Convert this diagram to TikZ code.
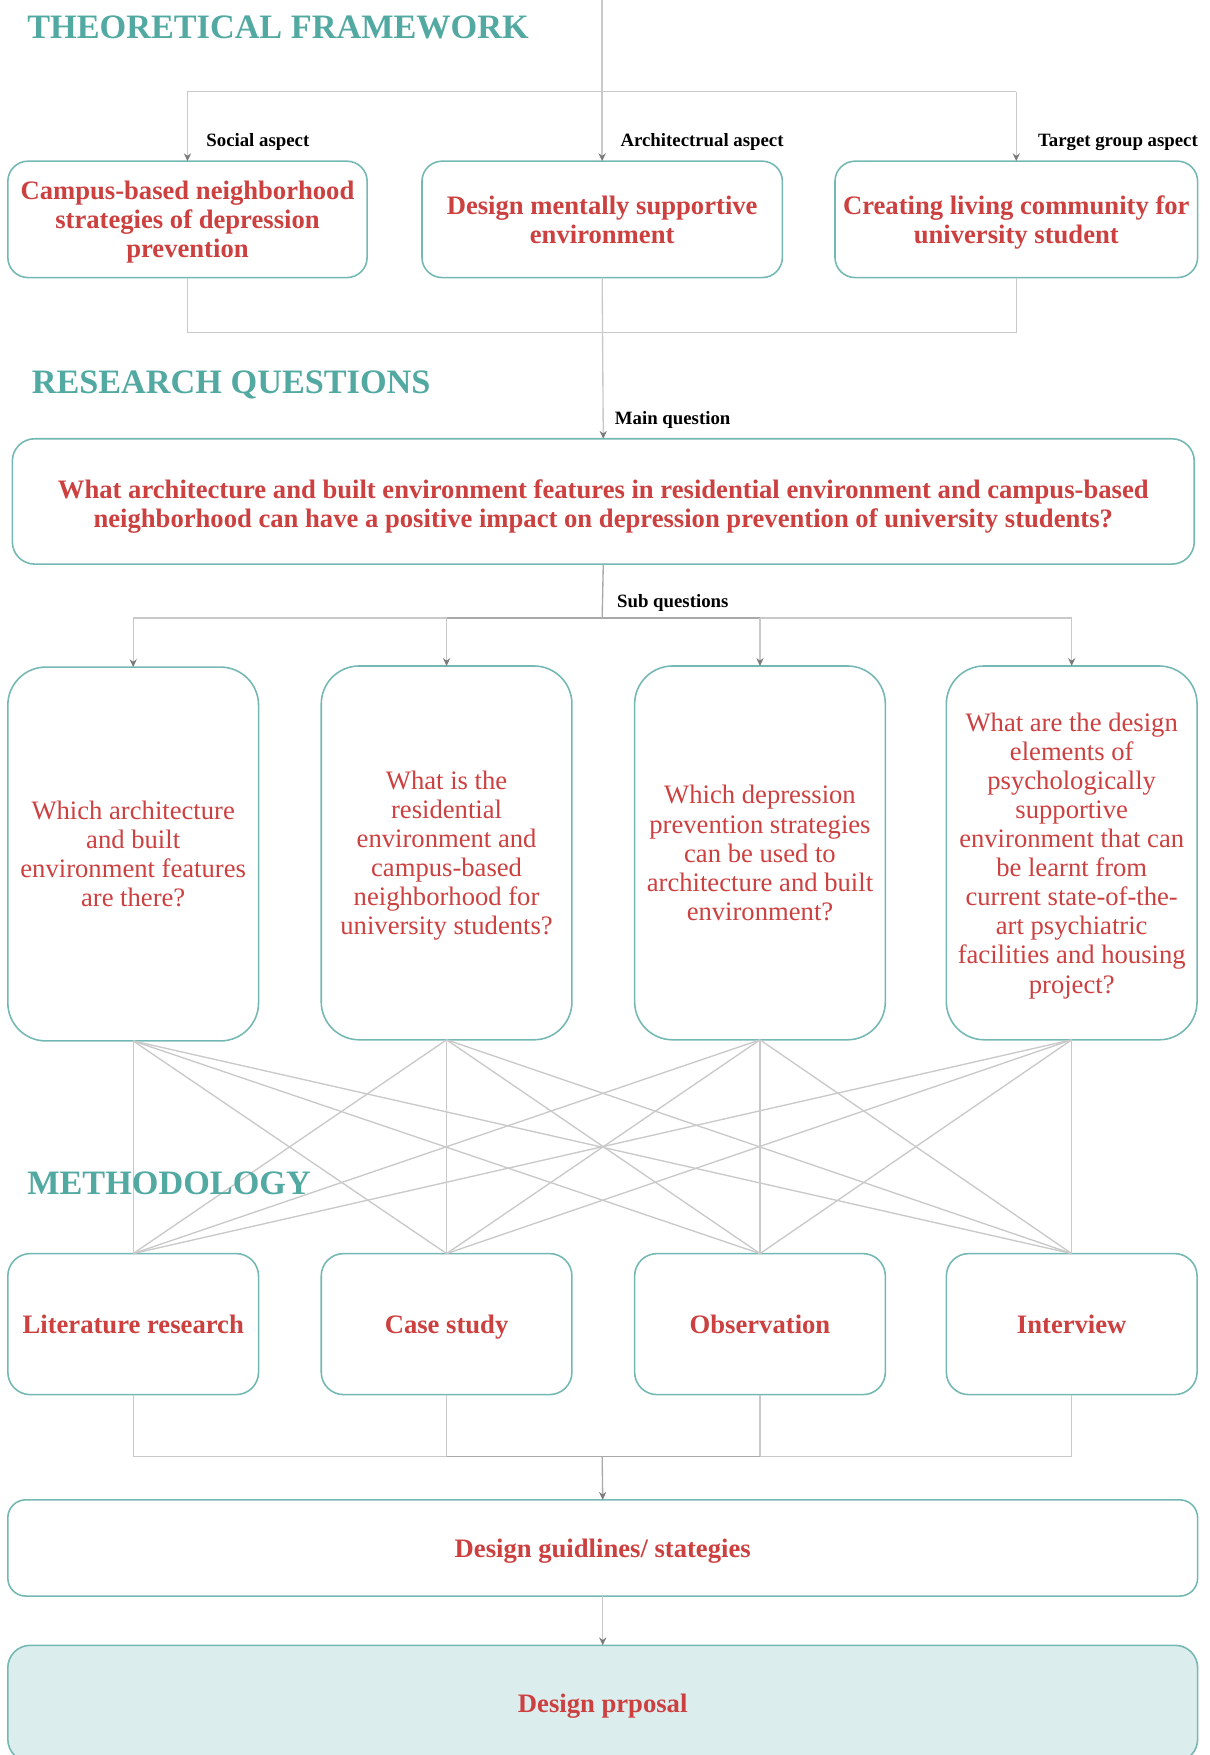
\documentclass[tikz,border=0pt]{standalone}
\usepackage{fontspec}
\setmainfont{Liberation Serif}
\usetikzlibrary{arrows.meta}
\definecolor{tealc}{HTML}{52A9A2}
\definecolor{redc}{HTML}{CC4040}
\definecolor{bordc}{HTML}{74B8B3}
\definecolor{linec}{HTML}{C9C9C9}
\definecolor{linedk}{HTML}{A9A9A9}
\definecolor{arrc}{HTML}{7A7A7A}
\definecolor{fillc}{HTML}{DCEDED}
\begin{document}
\begin{tikzpicture}[x=0.5pt,y=-0.5pt,
  ttl/.style={text=tealc, font=\fontsize{15.3}{16}\selectfont\bfseries, anchor=base west, inner sep=0pt},
  lbl/.style={text=black, font=\fontsize{8.4}{9}\selectfont\bfseries, anchor=west, inner sep=0pt},
  bbox/.style={draw=bordc, line width=0.7pt, fill=white, text=redc, align=center, inner sep=0pt, outer sep=0pt,
    font=\fontsize{11.9}{13}\selectfont\bfseries, text depth=0pt},
  qbox/.style={draw=bordc, line width=0.7pt, fill=white, text=redc, align=center, inner sep=0pt, outer sep=0pt,
    font=\fontsize{11.9}{13}\selectfont, minimum width=112pt, minimum height=167pt, rounded corners=17pt,
    text depth=0pt},
  onebox/.style={bbox, text height=10.5pt, text depth=2.4pt},
  mbox/.style={onebox, minimum width=112pt, minimum height=63pt, rounded corners=10pt},
  conn/.style={draw=linec, line width=0.6pt},
  conndk/.style={draw=linedk, line width=0.6pt},
  arr/.style={conn, -{Stealth[length=3.5pt,width=3.2pt,color=arrc]}},
  arrdk/.style={conndk, -{Stealth[length=3.5pt,width=3.2pt,color=arrc]}}]
\useasboundingbox (0,0) rectangle (1081,1568);

% titles
\node[ttl] (t1) at (24,34) {THEORETICAL FRAMEWORK};
\node[ttl] (t2) at (28,352) {RESEARCH QUESTIONS};

% theoretical framework boxes
\node[bbox, minimum width=160.5pt, minimum height=52pt, rounded corners=9pt] (tf1) at (167.5,196)
  {Campus-based neighborhood\\strategies of depression\\prevention};
\node[bbox, minimum width=161pt, minimum height=52pt, rounded corners=9pt] (tf2) at (538,196)
  {Design mentally supportive\\environment};
\node[bbox, minimum width=162pt, minimum height=52pt, rounded corners=9pt] (tf3) at (908,196)
  {Creating living community for\\university student};

\coordinate (topc) at (538,0);
\coordinate (tfbar) at (538,82);
\coordinate (tfbot) at (538,297);

\draw[conn] (tf1.north |- tfbar) -- (tf3.north |- tfbar);
\draw[arr] (tf1.north |- tfbar) -- (tf1.north);
\draw[arr] (tf3.north |- tfbar) -- (tf3.north);
\draw[arr] (topc) -- (tf2.north);
\draw[conn] (tf1.south) -- (tf1.south |- tfbot) -- (tf3.south |- tfbot) -- (tf3.south);

\node[lbl] (l1) at (184,127) {Social aspect};
\node[lbl] (l2) at (554,127) {Architectrual aspect};
\node[lbl] (l3) at (927,127) {Target group aspect};

% main question
\node[bbox, minimum width=528pt, minimum height=56pt, rounded corners=10pt, text height=23.3pt] (mq) at (539,448)
  {What architecture and built environment features in residential environment and campus-based\\
   neighborhood can have a positive impact on depression prevention of university students?};
\draw[arr] (tf2.south) -- (mq.north);
\node[lbl] (l4) at (549,375) {Main question};

% sub questions
\node[qbox] (sq1) at (119,763) {Which architecture\\and built\\environment features\\are there?};
\node[qbox] (sq2) at (399,762) {What is the\\residential\\environment and\\campus-based\\neighborhood for\\university students?};
\node[qbox] (sq3) at (679,762) {Which depression\\prevention strategies\\can be used to\\architecture and built\\environment?};
\node[qbox] (sq4) at (957.5,762) {What are the design\\elements of\\psychologically\\supportive\\environment that can\\be learnt from\\current state-of-the-\\art psychiatric\\facilities and housing\\project?};

\coordinate (sqbar) at (538,552);
\draw[conndk] (mq.south) -- (sqbar);
\draw[conn] (sq1.north |- sqbar) -- (sq4.north |- sqbar);
\draw[conndk] (sq2.north |- sqbar) -- (sq3.north |- sqbar);
\foreach \i in {1,...,4}{\draw[arr] (sq\i.north |- sqbar) -- (sq\i.north);}
\node[lbl] (l5) at (551,539) {Sub questions};

% methods
\node[mbox] (m1) at (119,1183) {Literature research};
\node[mbox] (m2) at (399,1183) {Case study};
\node[mbox] (m3) at (679,1183) {Observation};
\node[mbox] (m4) at (957.5,1183) {Interview};

\foreach \i in {1,...,4}{\foreach \j in {1,...,4}{\draw[conn] (sq\i.south) -- (m\j.north);}}

\node[ttl] (t3) at (24,1067) {METHODOLOGY};

\coordinate (mbar) at (538,1301);
\foreach \i in {1,...,4}{\draw[conn] (m\i.south) -- (m\i.south |- mbar);}
\draw[conn] (m1.south |- mbar) -- (m4.south |- mbar);
\draw[conndk] (m2.south |- mbar) -- (m3.south |- mbar);

% design guidelines and proposal
\node[onebox, minimum width=531.5pt, minimum height=43pt, rounded corners=8pt] (dg) at (538.5,1383)
  {Design guidlines/ stategies};
\node[onebox, fill=fillc, minimum width=531.5pt, minimum height=52pt, rounded corners=10pt] (dp) at (538.5,1522)
  {Design prposal};
\draw[arrdk] (mbar) -- (dg.north);
\draw[arr] (dg.south) -- (dp.north);
\end{tikzpicture}
\end{document}
